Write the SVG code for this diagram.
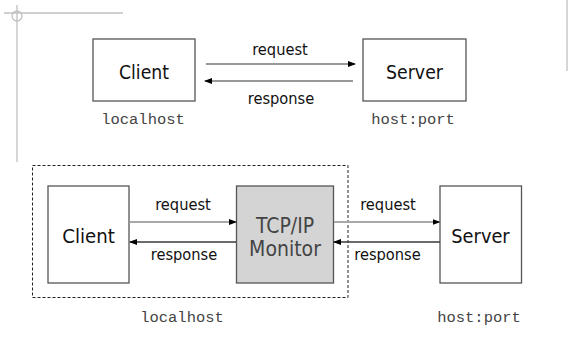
<svg xmlns="http://www.w3.org/2000/svg" width="581" height="363" viewBox="0 0 581 363">
  <style>
    .box { fill: #ffffff; stroke: #555555; stroke-width: 1.3; }
    .mon { fill: #d4d4d4; stroke: #555555; stroke-width: 1.3; }
    .lbl { font-family: "DejaVu Sans Condensed", "DejaVu Sans", Verdana, sans-serif; font-stretch: condensed; fill: #111111; text-anchor: middle; }
    .mlbl { font-family: "DejaVu Sans Condensed", "DejaVu Sans", Verdana, sans-serif; font-stretch: condensed; fill: #444444; text-anchor: middle; }
    .host { font-family: "Liberation Mono", "Courier New", monospace; fill: #444444; text-anchor: middle; }
    .deco { stroke: #c0c0c0; stroke-width: 1.3; fill: none; }
    .req { stroke: #a8a8a8; stroke-width: 2; fill: none; }
    .resp { stroke: #3a3a3a; stroke-width: 1.5; fill: none; }
    .thin { stroke: #333333; stroke-width: 1; fill: none; }
  </style>
  <defs>
    <marker id="ah" viewBox="0 0 8 8" refX="7" refY="4" markerWidth="8" markerHeight="8" markerUnits="userSpaceOnUse" orient="auto">
      <path d="M0,1 L8,4 L0,7 z" fill="#000000"/>
    </marker>
  </defs>

  <rect width="581" height="363" fill="#ffffff"/>

  <!-- page decoration -->
  <g id="decoration">
    <line class="deco" x1="4" y1="13" x2="123" y2="13"/>
    <line class="deco" x1="17" y1="5" x2="17" y2="162"/>
    <circle class="deco" cx="17" cy="16" r="5"/>
    <line class="deco" x1="567" y1="0" x2="567" y2="71"/>
  </g>

  <!-- direct connection -->
  <g id="client-top">
    <rect class="box" x="93" y="39" width="102" height="62"/>
    <text class="lbl" x="144" y="79" font-size="19.2">Client</text>
  </g>
  <g id="server-top">
    <rect class="box" x="363" y="39" width="103" height="62"/>
    <text class="lbl" x="414.5" y="79" font-size="19.3">Server</text>
  </g>
  <text class="host" x="143" y="124" font-size="15.5">localhost</text>
  <text class="host" x="413" y="124" font-size="15.5">host:port</text>

  <!-- connection through the monitor -->
  <g id="localhost-area">
    <rect x="32.5" y="165.5" width="315.5" height="132" fill="none" stroke="#222222" stroke-width="1" stroke-dasharray="3,2"/>
    <text class="host" x="182" y="322" font-size="15.5">localhost</text>
  </g>
  <g id="client">
    <rect class="box" x="48" y="186" width="81" height="97"/>
    <text class="lbl" x="88.5" y="243" font-size="20.2">Client</text>
  </g>
  <g id="monitor">
    <rect class="mon" x="236.5" y="186" width="97" height="97"/>
    <text class="mlbl" x="285" y="233" font-size="21">TCP/IP</text>
    <text class="mlbl" x="285" y="256" font-size="21">Monitor</text>
  </g>
  <g id="server">
    <rect class="box" x="440" y="186" width="81.5" height="97"/>
    <text class="lbl" x="480.5" y="243" font-size="19.8">Server</text>
  </g>
  <text class="host" x="479" y="322" font-size="15.5">host:port</text>

  <g id="connectors">
    <line class="thin" x1="206" y1="64" x2="355" y2="64" marker-end="url(#ah)"/>
    <line class="thin" x1="353" y1="81" x2="205" y2="81" marker-end="url(#ah)"/>
    <line class="req" x1="129.5" y1="222" x2="236" y2="222" marker-end="url(#ah)"/>
    <line class="resp" x1="236" y1="242" x2="130" y2="242" marker-end="url(#ah)"/>
    <line class="req" x1="334" y1="222" x2="439.5" y2="222" marker-end="url(#ah)"/>
    <line class="resp" x1="440" y1="242" x2="334" y2="242" marker-end="url(#ah)"/>
  </g>
  <g id="connector-labels">
    <text class="lbl" x="280" y="55" font-size="16.3">request</text>
    <text class="lbl" x="281" y="104" font-size="16.3">response</text>
    <text class="lbl" x="183" y="210" font-size="16.3">request</text>
    <text class="lbl" x="184" y="260" font-size="16.3">response</text>
    <text class="lbl" x="388" y="210" font-size="16.3">request</text>
    <text class="lbl" x="387.5" y="260" font-size="16.3">response</text>
  </g>
</svg>
